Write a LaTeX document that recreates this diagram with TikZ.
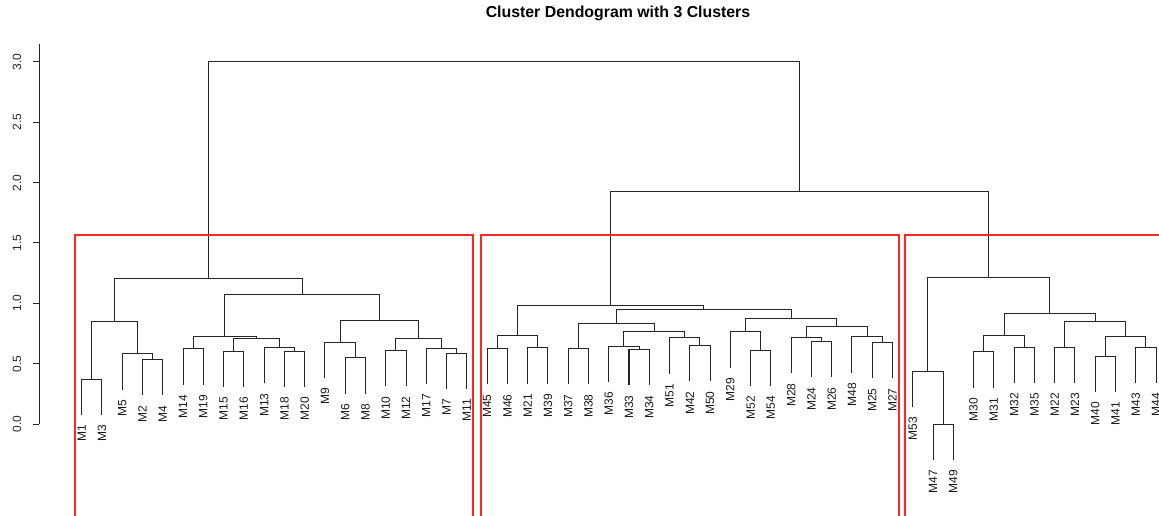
\documentclass[tikz,border=0pt]{standalone}
\usepackage{fontspec}
\setmainfont{Liberation Sans}
\usetikzlibrary{calc}
\tikzset{
  dline/.style={draw=black!85, line width=0.75pt},
  leaflab/.style={rotate=90, anchor=east, inner sep=0pt, font=\fontsize{9}{10}\selectfont, text=black!90},
  axlab/.style={rotate=90, inner sep=0pt, font=\fontsize{9}{10}\selectfont, text=black!85},
  redbox/.style={draw=red!85, line width=1.1pt},
}
\newcommand\leafat[3]{%
  \coordinate (#1) at ({81.7+20.27*#2},#3);
  \node[leaflab] (l#1) at ($(#1)+(0,10)$) {#1};}
\newcommand\mergeat[4]{%
  \coordinate (tmp) at ($(#2)!0.5!(#3)$);
  \coordinate (#1) at (tmp |- 0,#4);
  \draw[dline] (#2) -- (#2 |- #1) -- (#3 |- #1) -- (#3);}
\begin{document}
\begin{tikzpicture}[x=0.75pt,y=-0.75pt]
\useasboundingbox (0,0) rectangle (1159,516);
\clip (0,0) rectangle (1159,516);
\fill[white] (0,0) rectangle (1159,516);
% title
\node[font=\bfseries\fontsize{11.9}{14}\selectfont, inner sep=0pt] (title) at (618,13) {Cluster Dendogram with 3 Clusters};
% axis
\draw[dline] (39,44) -- (39,424);
\foreach \v/\yy in {0.0/424,0.5/363.7,1.0/303.3,1.5/243,2.0/182.7,2.5/122.3,3.0/62}{
  \draw[dline] (33,\yy) -- (39,\yy);
  \node[axlab] at (17,\yy) {\v};
}
% leaves: left cluster
\leafat{M1}{0}{415}
\leafat{M3}{1}{415}
\leafat{M5}{2}{389.7}
\leafat{M2}{3}{395.3}
\leafat{M4}{4}{395.3}
\leafat{M14}{5}{384.7}
\leafat{M19}{6}{384.7}
\leafat{M15}{7}{387}
\leafat{M16}{8}{387}
\leafat{M13}{9}{383.3}
\leafat{M18}{10}{387}
\leafat{M20}{11}{387}
\leafat{M9}{12}{378}
\leafat{M6}{13}{393.7}
\leafat{M8}{14}{393.7}
\leafat{M10}{15}{386.3}
\leafat{M12}{16}{386.3}
\leafat{M17}{17}{384}
\leafat{M7}{18}{389}
\leafat{M11}{19}{389}
% middle cluster
\leafat{M45}{20}{384.3}
\leafat{M46}{21}{384.3}
\leafat{M21}{22}{383.7}
\leafat{M39}{23}{383.7}
\leafat{M37}{24}{384.3}
\leafat{M38}{25}{384.3}
\leafat{M36}{26}{382}
\leafat{M33}{27}{385.3}
\leafat{M34}{28}{385.3}
\leafat{M51}{29}{374}
\leafat{M42}{30}{381.3}
\leafat{M50}{31}{381.3}
\leafat{M29}{32}{368}
\leafat{M52}{33}{386}
\leafat{M54}{34}{386}
\leafat{M28}{35}{373.3}
\leafat{M24}{36}{377.3}
\leafat{M26}{37}{377.3}
\leafat{M48}{38}{372.7}
\leafat{M25}{39}{378.3}
\leafat{M27}{40}{378.3}
% right cluster
\leafat{M53}{41}{407}
\leafat{M47}{42}{460}
\leafat{M49}{43}{460}
\leafat{M30}{44}{387.7}
\leafat{M31}{45}{387.7}
\leafat{M32}{46}{383}
\leafat{M35}{47}{383}
\leafat{M22}{48}{383}
\leafat{M23}{49}{383}
\leafat{M40}{50}{392}
\leafat{M41}{51}{392}
\leafat{M43}{52}{383}
\leafat{M44}{53}{383}
% merges: left
\mergeat{c13}{M1}{M3}{379}
\mergeat{c24}{M2}{M4}{359.3}
\mergeat{c524}{M5}{c24}{353.7}
\mergeat{cA}{c13}{c524}{321.7}
\mergeat{c1419}{M14}{M19}{348.7}
\mergeat{c1516}{M15}{M16}{351}
\mergeat{c1820}{M18}{M20}{351}
\mergeat{c13b}{M13}{c1820}{347.3}
\mergeat{cB1}{c1516}{c13b}{338.7}
\mergeat{cB}{c1419}{cB1}{337}
\mergeat{c68}{M6}{M8}{357.7}
\mergeat{c968}{M9}{c68}{342}
\mergeat{c1012}{M10}{M12}{350.3}
\mergeat{c711}{M7}{M11}{353}
\mergeat{c17}{M17}{c711}{348}
\mergeat{cC1}{c1012}{c17}{338.7}
\mergeat{cC}{c968}{cC1}{320.7}
\mergeat{cBC}{cB}{cC}{294.3}
\mergeat{cL}{cA}{cBC}{279}
% merges: middle
\mergeat{d1}{M45}{M46}{348.3}
\mergeat{d2}{M21}{M39}{347.7}
\mergeat{d12}{d1}{d2}{335.7}
\mergeat{d3}{M37}{M38}{348.3}
\mergeat{d4}{M33}{M34}{349.3}
\mergeat{d5}{M36}{d4}{346}
\mergeat{d6}{M42}{M50}{345.3}
\mergeat{d7}{M51}{d6}{338}
\mergeat{d8}{d5}{d7}{331.7}
\mergeat{d9}{d3}{d8}{323.3}
\mergeat{d10}{M52}{M54}{350}
\mergeat{d11}{M29}{d10}{332}
\mergeat{d12b}{M24}{M26}{341.3}
\mergeat{d13}{M28}{d12b}{337.3}
\mergeat{d14}{M25}{M27}{342.3}
\mergeat{d15}{M48}{d14}{336.7}
\mergeat{d16}{d13}{d15}{326.7}
\mergeat{d17}{d11}{d16}{318.7}
\mergeat{d18}{d9}{d17}{309.3}
\mergeat{dM}{d12}{d18}{305.3}
% merges: right
\mergeat{e1}{M47}{M49}{424}
\mergeat{e2}{M53}{e1}{371}
\mergeat{e3}{M30}{M31}{351.7}
\mergeat{e4}{M32}{M35}{347}
\mergeat{e5}{e3}{e4}{335.7}
\mergeat{e6}{M22}{M23}{347}
\mergeat{e7}{M40}{M41}{356}
\mergeat{e8}{M43}{M44}{347}
\mergeat{e9}{e7}{e8}{336.3}
\mergeat{e10}{e6}{e9}{321.3}
\mergeat{e11}{e5}{e10}{314}
\mergeat{eR}{e2}{e11}{277.7}
% top
\mergeat{MR}{dM}{eR}{192}
\mergeat{root}{cL}{MR}{62}
% cluster boxes
\draw[redbox] (75,525) -- (75,235) -- (473,235) -- (473,525);
\draw[redbox] (481,525) -- (481,235) -- (899,235) -- (899,525);
\draw[redbox] (905,525) -- (905,235) -- (1175,235);
\end{tikzpicture}
\end{document}
